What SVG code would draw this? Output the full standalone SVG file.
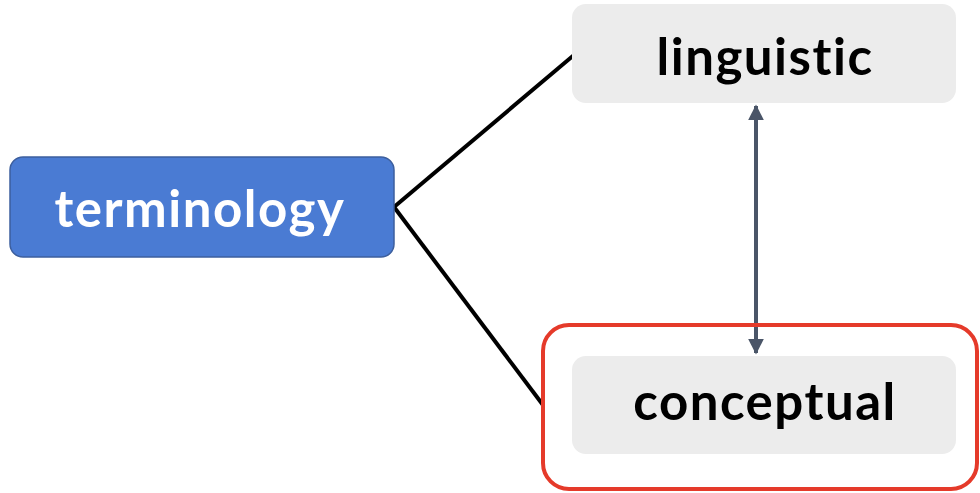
<svg xmlns="http://www.w3.org/2000/svg" width="980" height="493" viewBox="0 0 980 493">
  <defs>
    <style>
      .lbl { font-family: Lato, "Open Sans", sans-serif; font-weight: 700; font-size: 51px; letter-spacing: 1.5px; font-variant-ligatures: none; text-anchor: middle; }
      .grey { fill: #ececec; }
      .edge { stroke: #000; stroke-width: 4; fill: none; }
    </style>
    <marker id="ah" viewBox="0 0 10 10" refX="9" refY="5" markerWidth="4" markerHeight="4" orient="auto-start-reverse" markerUnits="strokeWidth">
      <path d="M0,0 L10,5 L0,10 z" fill="#4a5568"/>
    </marker>
  </defs>
  <rect width="980" height="493" fill="#fff"/>

  <g id="connectors">
    <line class="edge" x1="394" y1="207" x2="574" y2="55"/>
    <line class="edge" x1="394" y1="207" x2="543" y2="405"/>
    <line x1="756" y1="106" x2="756" y2="353" stroke="#4a5568" stroke-width="4" marker-start="url(#ah)" marker-end="url(#ah)"/>
  </g>

  <g id="terminology">
    <rect x="10" y="157" width="384" height="100" rx="13" fill="#4a7bd3" stroke="#3d5f9e" stroke-width="1.5"/>
    <text class="lbl" x="200" y="227" fill="#fff">terminology</text>
  </g>

  <g id="linguistic">
    <rect class="grey" x="572" y="4" width="384" height="99" rx="14"/>
    <text class="lbl" x="765" y="75" fill="#000">linguistic</text>
  </g>

  <g id="conceptual-frame">
    <rect x="543" y="325" width="434" height="164" rx="26" fill="none" stroke="#e53a2a" stroke-width="4"/>
  </g>

  <g id="conceptual">
    <rect class="grey" x="572" y="356" width="384" height="98" rx="14"/>
    <text class="lbl" x="765" y="420" fill="#000">conceptual</text>
  </g>
</svg>
